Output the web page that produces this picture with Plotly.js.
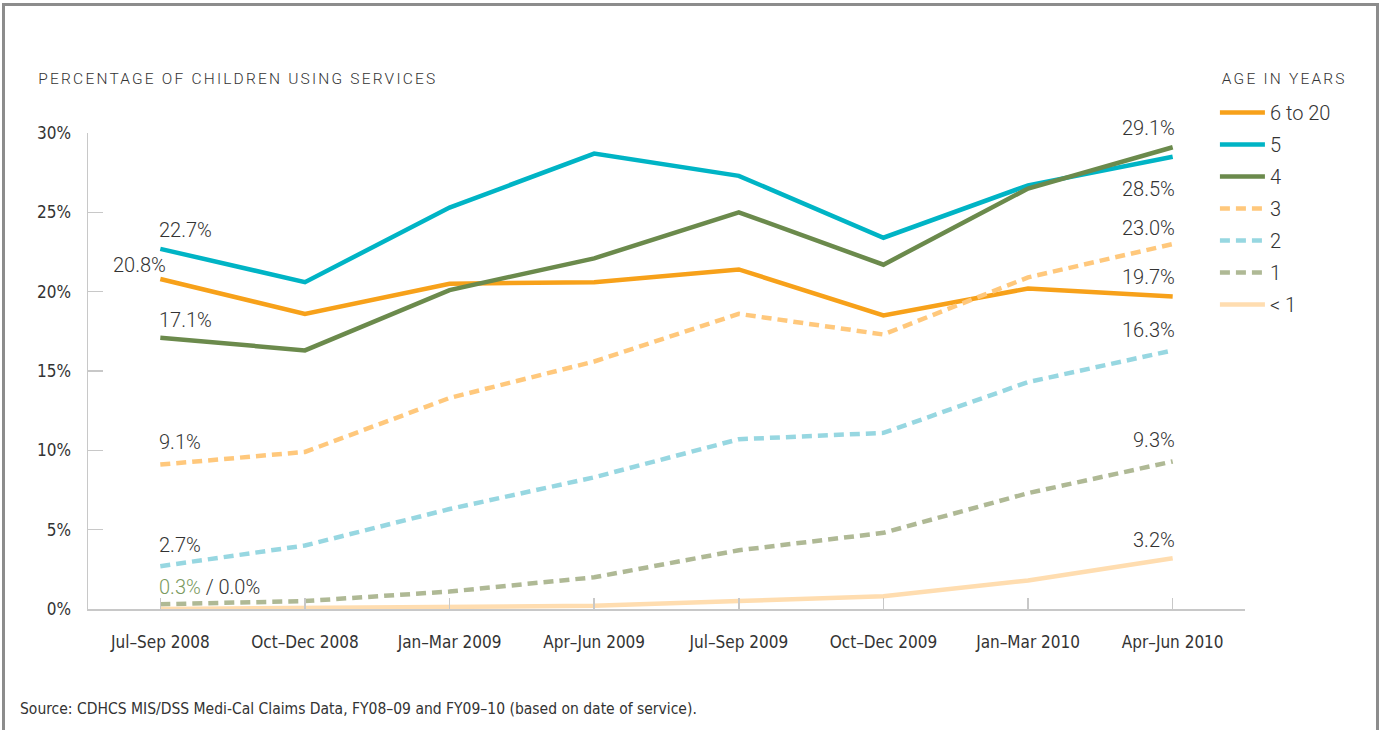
<!DOCTYPE html>
<html>
<head>
<meta charset="utf-8">
<script src="https://cdn.plot.ly/plotly-3.0.1.min.js"></script>
<style>
  html, body { margin: 0; padding: 0; background: #fff; }
  #wrap { position: relative; width: 1382px; height: 730px; overflow: hidden; }
  #chart { width: 1382px; height: 730px; }
  #frame { position: absolute; left: 2px; top: 3px; width: 1371px; height: 760px;
           border: 3px solid #8c8c8c; pointer-events: none; }
  g.annotation[data-index="0"] text, g.annotation[data-index="1"] text { letter-spacing: 2.2px; }
</style>
</head>
<body>
<div id="wrap">
  <div id="chart"></div>
  <div id="frame"></div>
</div>
<script>
// ---- data ----
const quarters = ["Jul\u2013Sep 2008", "Oct\u2013Dec 2008", "Jan\u2013Mar 2009", "Apr\u2013Jun 2009",
                  "Jul\u2013Sep 2009", "Oct\u2013Dec 2009", "Jan\u2013Mar 2010", "Apr\u2013Jun 2010"];
const seriesNames = ["6 to 20", "5", "4", "3", "2", "1", "< 1"];
const age6to20 = [20.8, 18.6, 20.5, 20.6, 21.4, 18.5, 20.2, 19.7];
const age5     = [22.7, 20.6, 25.3, 28.7, 27.3, 23.4, 26.7, 28.5];
const age4     = [17.1, 16.3, 20.1, 22.1, 25.0, 21.7, 26.5, 29.1];
const age3     = [9.1, 9.9, 13.3, 15.6, 18.6, 17.3, 20.9, 23.0];
const age2     = [2.7, 4.0, 6.3, 8.3, 10.7, 11.1, 14.3, 16.3];
const age1     = [0.3, 0.5, 1.1, 2.0, 3.7, 4.8, 7.3, 9.3];
const ageUnder1 = [0.0, 0.05, 0.1, 0.2, 0.5, 0.8, 1.8, 3.2];
const yTickVals = [0, 5, 10, 15, 20, 25, 30];
const yTickText = ["0%", "5%", "10%", "15%", "20%", "25%", "30%"];

// ---- styles ----
const allSeries = [age6to20, age5, age4, age3, age2, age1, ageUnder1];
const colors = ["#F7A11A", "#00B4C5", "#6B8A4C", "#FFC87C", "#97D7E1", "#AFB995", "#FFDDB0"];
const dashes = ["solid", "solid", "solid", "10px,6px", "10px,6px", "10px,6px", "solid"];

const xIdx = quarters.map((q, i) => i);
const traces = allSeries.map((s, k) => ({
  type: "scatter", mode: "lines",
  x: xIdx, y: s, name: seriesNames[k], legendgroup: "g" + k,
  line: { color: colors[k], width: 4.5, dash: dashes[k] },
  hoverinfo: "skip"
}));

const lightFamily = "Roboto, 'Liberation Sans', sans-serif";
const valueFont = { family: lightFamily, size: 20, color: "#333", weight: 300 };
const condensed = "'Liberation Sans Narrow', 'DejaVu Sans Condensed', 'Roboto Condensed', sans-serif";
const fmt = v => v.toFixed(1) + "%";

// label pixel offsets (style only)
const firstShift = [14, 19, 18, 23, 21, null, null];
const lastShift  = [19, -32, 19, 16, 20, 21, 18];
const annotations = [];

annotations.push({
  xref: "paper", yref: "paper", x: -0.0095, y: 1.1134, xanchor: "left", yanchor: "middle",
  text: "PERCENTAGE OF CHILDREN USING SERVICES", showarrow: false,
  font: { family: lightFamily, size: 15.5, color: "#333", weight: 300 }
});
annotations.push({
  xref: "paper", yref: "paper", x: 0.9896, y: 1.1134, xanchor: "left", yanchor: "middle",
  text: "AGE IN YEARS", showarrow: false,
  font: { family: lightFamily, size: 15.5, color: "#333", weight: 300 }
});
annotations.push({
  xref: "paper", yref: "paper", x: -0.0605, y: -0.210, xanchor: "left", yanchor: "middle",
  text: "Source: CDHCS MIS/DSS Medi-Cal Claims Data, FY08\u201309 and FY09\u201310 (based on date of service).",
  showarrow: false, font: { family: condensed, size: 15.5, color: "#333" }
});

// first-point labels
for (let k = 0; k < 5; k++) {
  const right = (k === 0);
  annotations.push({
    x: 0, y: allSeries[k][0], xref: "x", yref: "y",
    xanchor: right ? "right" : "left", yanchor: "middle",
    xshift: right ? 8 : -3, yshift: firstShift[k],
    text: fmt(allSeries[k][0]), showarrow: false, font: valueFont
  });
}
annotations.push({
  x: 0, y: age1[0], xref: "x", yref: "y", xanchor: "left", yanchor: "middle",
  xshift: -3, yshift: 17,
  text: '<span style="color:#7A9A5E">' + fmt(age1[0]) + '</span> / ' + fmt(ageUnder1[0]),
  showarrow: false, font: valueFont
});
// last-point labels
for (let k = 0; k < 7; k++) {
  const n = allSeries[k].length - 1;
  annotations.push({
    x: n, y: allSeries[k][n], xref: "x", yref: "y", xanchor: "right", yanchor: "middle",
    xshift: 4, yshift: lastShift[k],
    text: fmt(allSeries[k][n]), showarrow: false, font: valueFont
  });
}

const layout = {
  width: 1382, height: 730,
  margin: { l: 88, r: 137, t: 133, b: 121 },
  paper_bgcolor: "#fff", plot_bgcolor: "#fff",
  showlegend: true,
  legend: {
    x: 0.974, y: 1.084, xanchor: "left", yanchor: "top",
    font: { family: lightFamily, size: 20, color: "#333", weight: 300 },
    itemwidth: 45,
    traceorder: "grouped", tracegroupgap: 3, bgcolor: "rgba(0,0,0,0)"
  },
  xaxis: {
    range: [-0.5, 7.5], tickmode: "array", tickvals: xIdx, ticktext: quarters,
    showgrid: false, zeroline: false, showline: true, linecolor: "#c8c8c8", linewidth: 2,
    ticks: "inside", ticklen: 11, tickcolor: "#c8c8c8", tickwidth: 1.5,
    tickfont: { family: condensed, size: 17, color: "#333" }, ticklabelstandoff: 17,
    fixedrange: true
  },
  yaxis: {
    range: [0, 30], tickmode: "array", tickvals: yTickVals, ticktext: yTickText,
    showgrid: false, zeroline: false, showline: true, linecolor: "#c8c8c8", linewidth: 1.5,
    ticks: "inside", ticklen: 15, tickcolor: "#c8c8c8", tickwidth: 1.5,
    tickfont: { family: condensed, size: 17, color: "#333" }, ticklabelstandoff: 12,
    fixedrange: true
  },
  annotations: annotations
};

Plotly.newPlot("chart", traces, layout, { displayModeBar: false, staticPlot: true });
</script>
</body>
</html>
